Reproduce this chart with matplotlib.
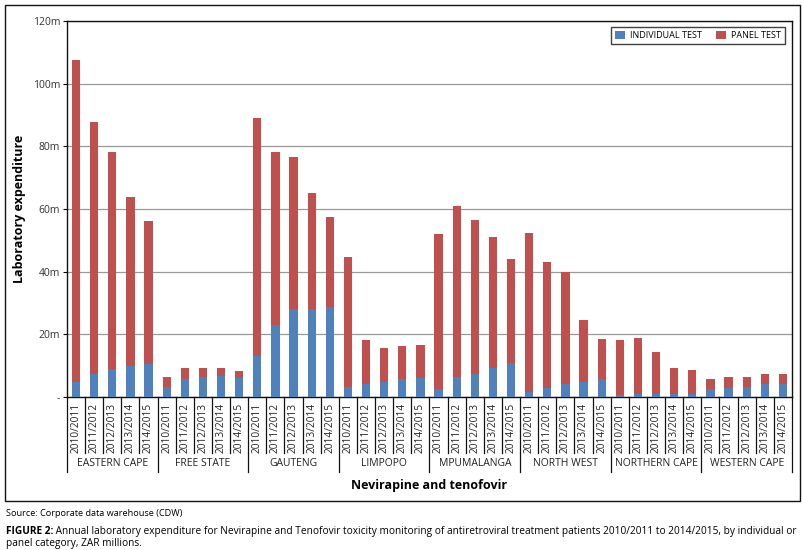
import matplotlib
matplotlib.use("Agg")
import matplotlib.pyplot as plt
import matplotlib.transforms as mtransforms
from matplotlib.patches import Rectangle
import numpy as np

provinces = ["EASTERN CAPE", "FREE STATE", "GAUTENG", "LIMPOPO", "MPUMALANGA",
             "NORTH WEST", "NORTHERN CAPE", "WESTERN CAPE"]
years = ["2010/2011", "2011/2012", "2012/2013", "2013/2014", "2014/2015"]

# individual test spend (ZAR millions), per province, per year
individual = [
    [4.9, 7.4, 8.8, 9.9, 10.6],
    [3.2, 5.8, 6.5, 6.8, 6.2],
    [13.1, 22.9, 28.2, 28.2, 28.6],
    [3.2, 4.3, 4.9, 5.8, 6.2],
    [2.7, 6.5, 7.5, 9.4, 10.9],
    [1.7, 3.0, 4.3, 4.9, 5.6],
    [0.7, 1.1, 1.1, 1.1, 1.1],
    [2.4, 3.0, 3.3, 4.3, 4.3],
]
# total spend (individual + panel)
total = [
    [107.5, 87.8, 78.2, 63.7, 56.1],
    [6.5, 9.4, 9.1, 9.1, 8.4],
    [89.2, 78.2, 76.5, 65.0, 57.3],
    [44.6, 18.3, 15.7, 16.3, 16.7],
    [51.9, 60.9, 56.5, 51.0, 43.9],
    [52.5, 43.0, 39.8, 24.7, 18.6],
    [18.3, 18.9, 14.4, 9.3, 8.7],
    [5.9, 6.4, 6.4, 7.4, 7.4],
]

ind = np.array(individual).ravel()
panel = np.array(total).ravel() - ind
labels = years * len(provinces)
x = np.arange(len(labels))

blue = "#4F81BD"
red = "#C0504D"
plt.rcParams["font.family"] = ["Open Sans", "DejaVu Sans"]

fig = plt.figure(figsize=(8.03, 5.5), dpi=100)
ax = fig.add_axes([67 / 803, 1 - 397 / 550, (792 - 67) / 803, (397 - 21) / 550])

ax.bar(x, ind, width=0.46, color=blue, label="INDIVIDUAL TEST", zorder=3)
ax.bar(x, panel, width=0.46, bottom=ind, color=red, label="PANEL TEST", zorder=3)

ax.set_xlim(-0.5, len(labels) - 0.5)
ax.set_ylim(0, 120)
ax.set_yticks(np.arange(0, 121, 20))
ax.set_yticklabels(["-"] + [f"{v}m" for v in range(20, 121, 20)], fontsize=7.5, color="#333333")
ax.yaxis.grid(True, color="#999999", linewidth=0.9, zorder=0)
ax.tick_params(axis="y", length=3, width=0.8, pad=2)
ax.set_xticks(x)
ax.set_xticklabels(labels, rotation=90, fontsize=7.3, va="top", color="#222222")
ax.tick_params(axis="x", length=0, pad=4)
for s in ax.spines.values():
    s.set_color("#111111")
    s.set_linewidth(1.0)

# category separators below the axis
trans = mtransforms.blended_transform_factory(ax.transData, ax.transAxes)
n = len(years)
for i in range(len(labels) + 1):
    bottom = -0.2 if i % n == 0 else -0.148
    ax.plot([i - 0.5, i - 0.5], [0, bottom], transform=trans, color="#111111",
            linewidth=0.9, clip_on=False)
for k, p in enumerate(provinces):
    ax.text(k * n + (n - 1) / 2, -0.178, p, transform=trans, ha="center", va="center",
            fontsize=7.5, color="#222222")

ax.text(0.5, -0.236, "Nevirapine and tenofovir", transform=ax.transAxes, ha="center",
        va="center", fontsize=9, fontweight="bold")
fig.text(20 / 803, 1 - 209 / 550, "Laboratory expenditure", rotation=90, ha="center",
         va="center", fontsize=9, fontweight="bold")

leg = ax.legend(loc="upper right", ncol=2, fontsize=6.5, frameon=True, fancybox=False,
                edgecolor="#111111", handlelength=1.1, handleheight=1.1,
                borderpad=0.45, columnspacing=1.6, handletextpad=0.5,
                bbox_to_anchor=(0.996, 0.997))
leg.get_frame().set_linewidth(1.0)

# outer frame around the figure
fig.patches.append(Rectangle((5 / 803, 1 - 501 / 550), 795 / 803, 496 / 550,
                             transform=fig.transFigure, fill=False,
                             edgecolor="#111111", linewidth=1.0))

fig.text(6 / 803, 1 - 514 / 550, "Source: Corporate data warehouse (CDW)", fontsize=6.6,
         va="center")

# caption: bold lead-in, then plain text right after it
cap_size = 7.3
head = fig.text(6 / 803, 1 - 534 / 550, "FIGURE 2:", fontsize=cap_size, fontweight="bold",
                va="baseline")
fig.canvas.draw()
bb = head.get_window_extent()
fig.text(bb.x1 / fig.bbox.width, head.get_position()[1],
         " Annual laboratory expenditure for Nevirapine and Tenofovir toxicity "
         "monitoring of antiretroviral treatment patients 2010/2011 to 2014/2015, by individual or",
         fontsize=cap_size, va="baseline")
fig.text(6 / 803, 1 - 546 / 550, "panel category, ZAR millions.", fontsize=cap_size,
         va="baseline")

plt.savefig("out.png", dpi=100)
